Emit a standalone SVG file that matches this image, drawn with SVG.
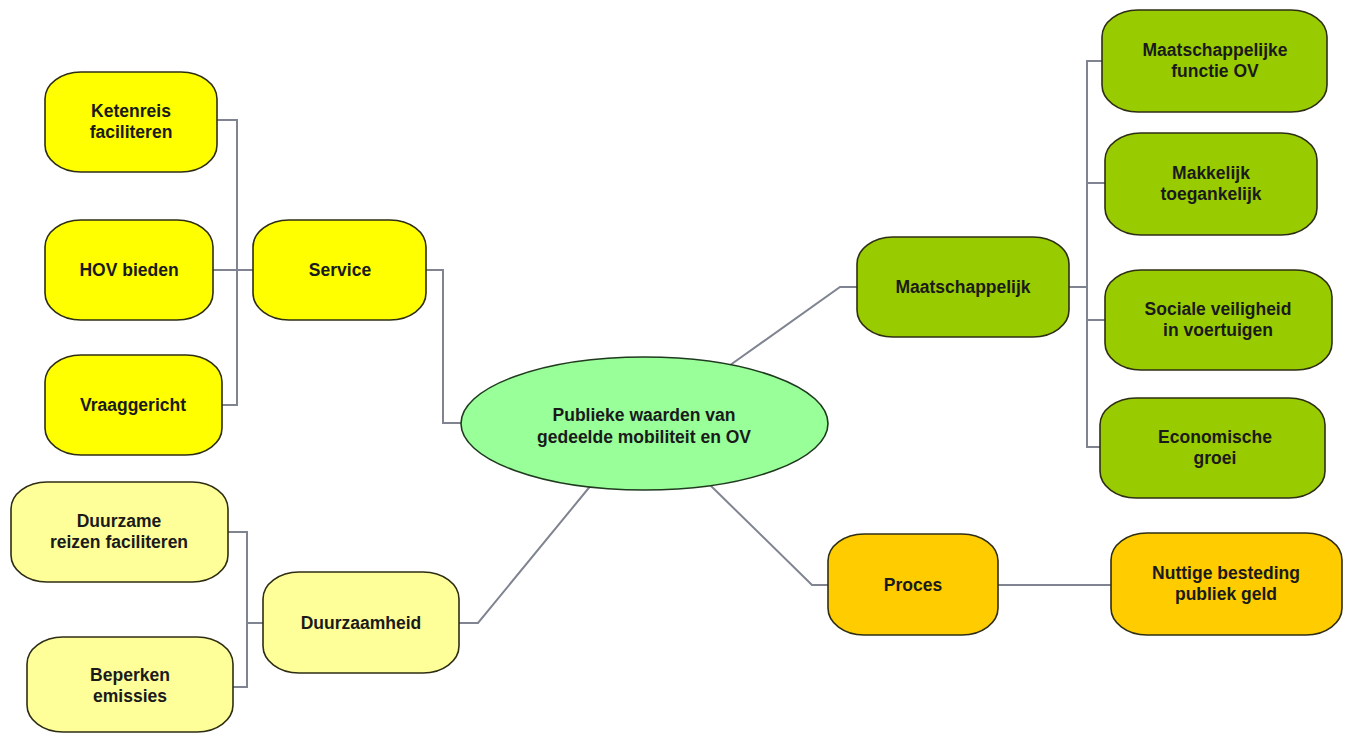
<svg xmlns="http://www.w3.org/2000/svg" width="1349" height="733" viewBox="0 0 1349 733">
  <style>
    .bg { fill: #ffffff; }
    .link { fill: none; stroke: #7f8490; stroke-width: 2; stroke-linejoin: miter; }
    .node { stroke: #2e2e14; stroke-width: 1.6; }
    .service { fill: #ffff00; }
    .duurzaam { fill: #ffff99; }
    .maatsch { fill: #99cc00; }
    .proces { fill: #ffcc00; }
    .root { fill: #99ff99; stroke: #1f3a1f; }
    .label { font-family: "Liberation Sans", Arial, sans-serif; font-weight: bold; font-size: 17.5px; fill: #1a1a1a; text-anchor: middle; }
  </style>

  <rect class="bg" x="0" y="0" width="1349" height="733"/>

  <!-- connectors -->
  <g id="connectors">
    <!-- Service branch -->
    <polyline class="link" points="217,120 237,120 237,405 222,405"/>
    <line class="link" x1="213" y1="270" x2="254" y2="270"/>
    <polyline class="link" points="425,270 443,270 443,423 470,423"/>
    <!-- Duurzaamheid branch -->
    <polyline class="link" points="228,532 247,532 247,687 233,687"/>
    <line class="link" x1="247" y1="623" x2="264" y2="623"/>
    <polyline class="link" points="459,623 478,623 592,484"/>
    <!-- Maatschappelijk branch -->
    <polyline class="link" points="726,368 840,287 858,287"/>
    <line class="link" x1="1069" y1="287" x2="1087" y2="287"/>
    <polyline class="link" points="1102,61 1087,61 1087,447 1101,447"/>
    <line class="link" x1="1087" y1="183" x2="1106" y2="183"/>
    <line class="link" x1="1087" y1="320" x2="1106" y2="320"/>
    <!-- Proces branch -->
    <polyline class="link" points="708,483 812,585 829,585"/>
    <line class="link" x1="997" y1="585" x2="1112" y2="585"/>
  </g>

  <!-- central topic -->
  <g id="root">
    <ellipse class="node root" cx="644.5" cy="423.5" rx="183.5" ry="66.5"/>
    <text class="label" x="644" y="421">Publieke waarden van</text>
    <text class="label" x="644" y="443">gedeelde mobiliteit en OV</text>
  </g>

  <!-- Service group -->
  <g id="service">
    <rect class="node service" x="253" y="220" width="173" height="100" rx="36" ry="27"/>
    <text class="label" x="340" y="276">Service</text>
  </g>
  <g id="ketenreis">
    <rect class="node service" x="45" y="72" width="172" height="100" rx="36" ry="27"/>
    <text class="label" x="131" y="117">Ketenreis</text>
    <text class="label" x="131" y="138">faciliteren</text>
  </g>
  <g id="hov-bieden">
    <rect class="node service" x="45" y="220" width="168" height="100" rx="36" ry="27"/>
    <text class="label" x="129" y="276">HOV bieden</text>
  </g>
  <g id="vraaggericht">
    <rect class="node service" x="45" y="355" width="177" height="100" rx="36" ry="27"/>
    <text class="label" x="133" y="411">Vraaggericht</text>
  </g>

  <!-- Duurzaamheid group -->
  <g id="duurzaamheid">
    <rect class="node duurzaam" x="263" y="572" width="196" height="101" rx="36" ry="27"/>
    <text class="label" x="361" y="629">Duurzaamheid</text>
  </g>
  <g id="duurzame-reizen">
    <rect class="node duurzaam" x="11" y="482" width="217" height="100" rx="36" ry="27"/>
    <text class="label" x="119" y="527">Duurzame</text>
    <text class="label" x="119" y="548">reizen faciliteren</text>
  </g>
  <g id="beperken-emissies">
    <rect class="node duurzaam" x="27" y="637" width="206" height="95" rx="36" ry="27"/>
    <text class="label" x="130" y="681">Beperken</text>
    <text class="label" x="130" y="702">emissies</text>
  </g>

  <!-- Maatschappelijk group -->
  <g id="maatschappelijk">
    <rect class="node maatsch" x="857" y="237" width="212" height="100" rx="36" ry="27"/>
    <text class="label" x="963" y="293">Maatschappelijk</text>
  </g>
  <g id="maatschappelijke-functie">
    <rect class="node maatsch" x="1102" y="10" width="225" height="102" rx="36" ry="27"/>
    <text class="label" x="1215" y="56">Maatschappelijke</text>
    <text class="label" x="1215" y="77">functie OV</text>
  </g>
  <g id="makkelijk-toegankelijk">
    <rect class="node maatsch" x="1105" y="133" width="212" height="102" rx="36" ry="27"/>
    <text class="label" x="1211" y="179">Makkelijk</text>
    <text class="label" x="1211" y="200">toegankelijk</text>
  </g>
  <g id="sociale-veiligheid">
    <rect class="node maatsch" x="1105" y="270" width="227" height="100" rx="36" ry="27"/>
    <text class="label" x="1218" y="315">Sociale veiligheid</text>
    <text class="label" x="1218" y="336">in voertuigen</text>
  </g>
  <g id="economische-groei">
    <rect class="node maatsch" x="1100" y="398" width="225" height="100" rx="36" ry="27"/>
    <text class="label" x="1215" y="443">Economische</text>
    <text class="label" x="1215" y="464">groei</text>
  </g>

  <!-- Proces group -->
  <g id="proces">
    <rect class="node proces" x="828" y="534" width="170" height="101" rx="36" ry="27"/>
    <text class="label" x="913" y="591">Proces</text>
  </g>
  <g id="nuttige-besteding">
    <rect class="node proces" x="1111" y="533" width="231" height="102" rx="36" ry="27"/>
    <text class="label" x="1226" y="579">Nuttige besteding</text>
    <text class="label" x="1226" y="600">publiek geld</text>
  </g>
</svg>
